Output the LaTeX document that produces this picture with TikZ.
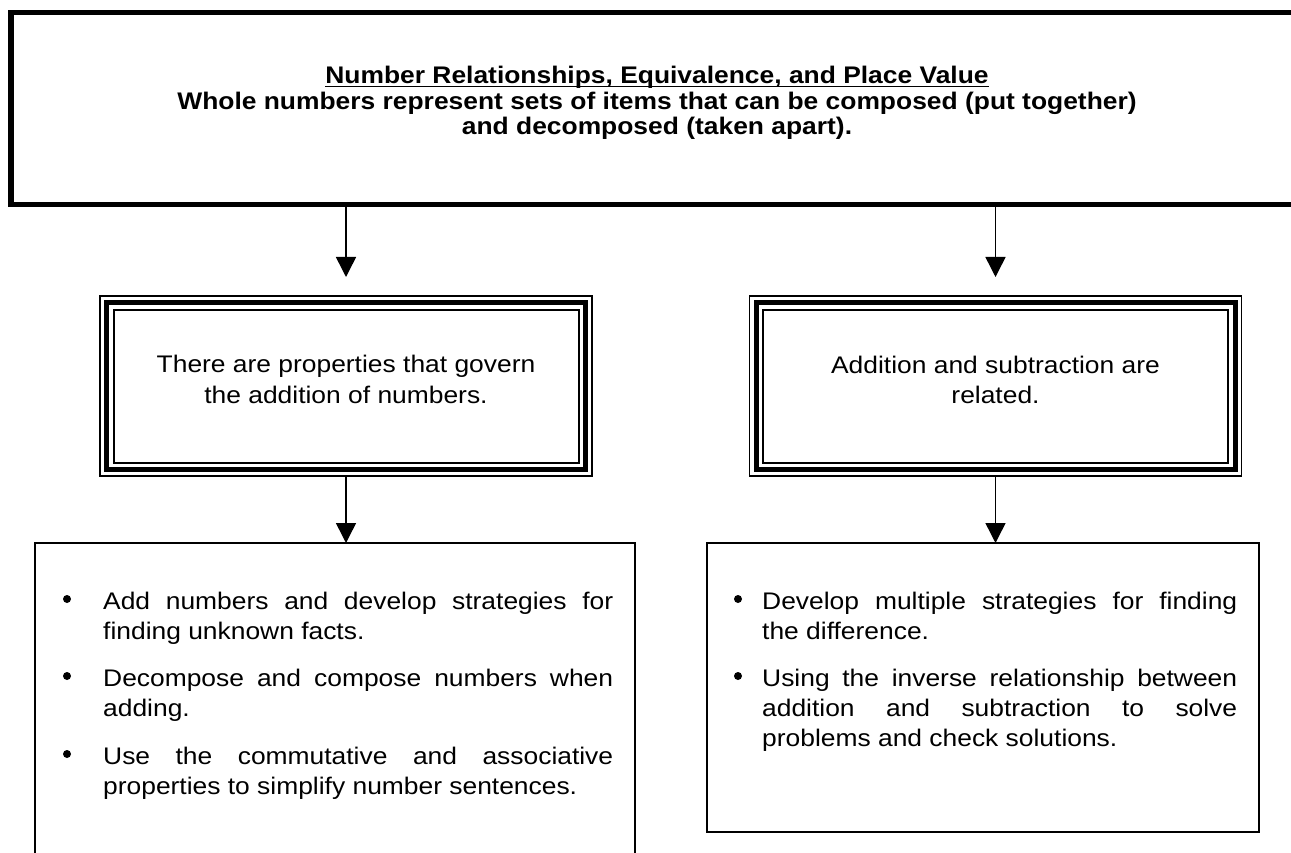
\documentclass[tikz,border=0pt]{standalone}
\usepackage{fontspec}
\setmainfont{Liberation Sans}[FakeStretch=1.1]
\usetikzlibrary{arrows.meta}
\newcommand\myul[1]{\setbox0\hbox{#1}\rlap{\rule[-3.5pt]{\wd0}{1.5pt}}\box0}
\begin{document}
\begin{tikzpicture}[x=1pt,y=-1pt,
  arr/.style={line width=1.5pt,-{Triangle[width=20pt,length=20pt]}},
  topbox/.style={draw,line width=5.5pt,minimum width=1400pt,minimum height=192pt,inner sep=0pt,outer sep=0pt},
  tribox/.style={draw,line width=1.7pt,minimum width=492pt,minimum height=180pt,inner sep=0pt,outer sep=0pt},
  listbox/.style={draw,line width=1.5pt,inner sep=0pt,outer sep=0pt},
  head/.style={font=\bfseries\fontsize{24}{26}\selectfont,anchor=base,inner sep=0pt},
  mid/.style={font=\fontsize{24}{31}\selectfont,anchor=base,inner sep=0pt},
  item/.style={font=\fontsize{24}{30}\selectfont,anchor=base west,inner sep=0pt,align=justify},
  dot/.style={circle,fill,minimum size=8pt,inner sep=0pt}]
\useasboundingbox (0,0) rectangle (1291,853);
\fill[white] (0,0) rectangle (1291,853);
\clip (0,0) rectangle (1291,853);
% boxes
\node[topbox] (top) at (711,108.5) {};
\node[tribox] (L) at (346,386) {};
\node[tribox] (R) at (995.5,386) {};
\foreach \n in {L,R}{
  \draw[line width=5pt] ([shift={(6.5pt,-6.5pt)}]\n.north west) rectangle ([shift={(-6.5pt,6.5pt)}]\n.south east);
  \draw[line width=2pt] ([shift={(13.5pt,-13.5pt)}]\n.north west) rectangle ([shift={(-13.5pt,13.5pt)}]\n.south east);
}
\node[listbox,minimum width=600pt,minimum height=400pt] (BL) at (335,743) {};
\node[listbox,minimum width=552pt,minimum height=289pt] (BR) at (983,687.5) {};
% arrows
\draw[arr] (top.south -| L.north) -- ([yshift=19pt]L.north);
\draw[arr] (top.south -| R.north) -- ([yshift=19pt]R.north);
\draw[arr] (L.south) -- (L.south |- BL.north);
\draw[arr] (R.south) -- (R.south |- BR.north);
% top text
\node[head] (t1) at (657,84) {\myul{Number Relationships, Equivalence, and Place Value}};
\node[head] (t2) at (657,110) {Whole numbers represent sets of items that can be composed (put together)};
\node[head] (t3) at (657,135) {and decomposed (taken apart).};
% middle text
\node[mid] (l1) at (346,372) {There are properties that govern};
\node[mid] (l2) at (346,403) {the addition of numbers.};
\node[mid] (r1) at (995.5,373) {Addition and subtraction are};
\node[mid] (r2) at (995.5,403) {related.};
% left list
\node[dot] (d1) at (67,599) {};
\node[item,text width=510pt] (a1) at (103,609) {\hangindent=5pt\hangafter=1 Add numbers and develop strategies for\linebreak finding unknown facts.};
\node[dot] (d2) at (67,676) {};
\node[item,text width=510pt] (a2) at (103,686) {\hangindent=5pt\hangafter=1 Decompose and compose numbers when\linebreak adding.};
\node[dot] (d3) at (67,754) {};
\node[item,text width=510pt] (a3) at (103,764) {\hangindent=5pt\hangafter=1 Use the commutative and associative\linebreak properties to simplify number sentences.};
% right list
\node[dot] (e1) at (738,599) {};
\node[item,text width=475pt] (b1) at (762,609) {Develop multiple strategies for finding\linebreak the difference.};
\node[dot] (e2) at (738,676) {};
\node[item,text width=475pt] (b2) at (762,686) {Using the inverse relationship between\linebreak addition and subtraction to solve\linebreak problems and check solutions.};
\end{tikzpicture}
\end{document}
